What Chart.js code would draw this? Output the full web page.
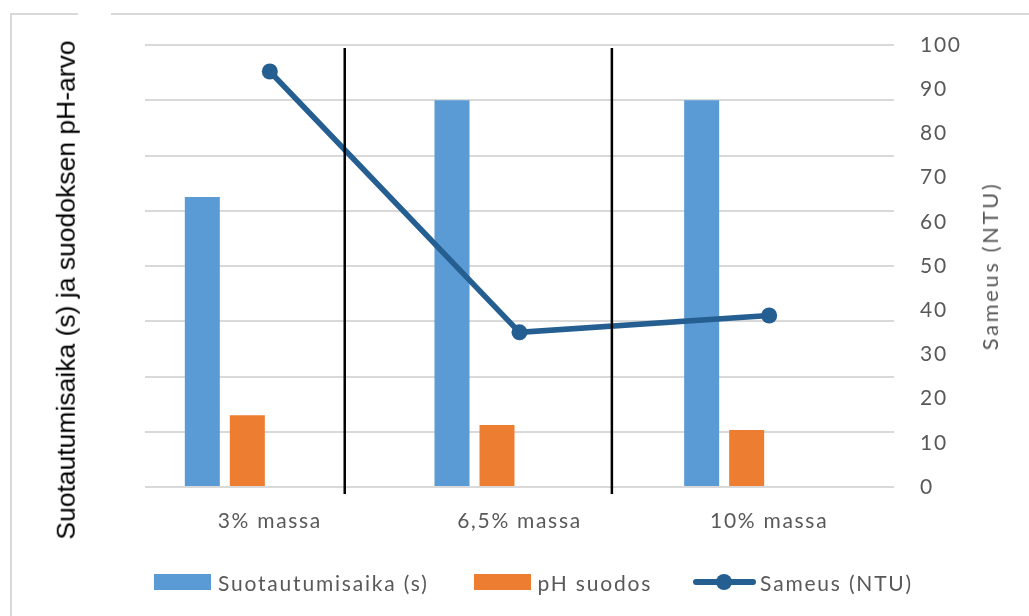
<!DOCTYPE html>
<html>
<head>
<meta charset="utf-8">
<script src="https://cdn.jsdelivr.net/npm/chart.js@4/dist/chart.umd.min.js"></script>
<style>
  html, body { margin: 0; padding: 0; background: #fff; overflow: hidden; }
  #wrap { position: relative; width: 1029px; height: 616px; overflow: hidden; font-family: Lato, sans-serif; }
  #frame { position: absolute; left: 10px; top: 13px; width: 1100px; height: 700px;
           border-left: 2px solid #d9d9d9; border-top: 2px solid #d9d9d9; }
  #frameGap { position: absolute; left: 78px; top: 10px; width: 33px; height: 8px; background: #fff; }
  #c { position: absolute; left: 0; top: 0; }
  .ytitle { position: absolute; white-space: nowrap; transform: translate(-50%, -50%) rotate(-90deg); line-height: 1; }
  #yTitleLeft { left: 66px; top: 290px; font-family: "Liberation Sans", Arial, sans-serif; font-size: 26.5px; color: #000; }
  #yTitleRight { left: 990px; top: 266px; font-size: 22px; color: #595959; letter-spacing: 2.6px; }
  #legend { position: absolute; left: 154px; top: 570px; height: 24px; display: flex; align-items: center;
            font-size: 21px; color: #595959; letter-spacing: 1.8px; white-space: nowrap; }
  .item { display: flex; align-items: center; }
  .swatch { width: 57px; height: 16px; }
  .lineSwatch { position: relative; width: 63px; height: 16px; }
  .lineSwatch .bar { position: absolute; left: 0; right: 0; top: 5px; height: 6px; border-radius: 3px; }
  .lineSwatch .dot { position: absolute; left: 23px; top: 0; width: 16px; height: 16px; border-radius: 50%; }
</style>
</head>
<body>
<div id="wrap">
  <div id="frame"></div>
  <div id="frameGap"></div>
  <canvas id="c" width="1029" height="616"></canvas>
  <div id="yTitleLeft" class="ytitle">Suotautumisaika (s) ja suodoksen pH-arvo</div>
  <div id="yTitleRight" class="ytitle">Sameus (NTU)</div>
  <div id="legend"></div>
</div>
<script>
// Samples: pulp consistency
const categories = ['3% massa', '6,5% massa', '10% massa'];
// Filtration time (s), left axis
const suotautumisaika = [52.5, 70, 70];
// Filtrate pH, left axis
const phSuodos = [13.0, 11.2, 10.3];
// Turbidity (NTU), right axis
const sameus = [94, 35, 38.8];
// Two unused bar slots in every group
const emptySlot = [null, null, null];
// Axis ranges
const leftAxis = { min: 0, max: 80, step: 10 };
const rightAxis = { min: 0, max: 100, step: 10 };
// Divider lines between the samples (category position, Sameus range)
const dividerAt = [0.3, 1.37];
const dividerSpan = [-1.6, 99.3];

const BLUE = '#5b9bd5';
const ORANGE = '#ed7d31';
const NAVY = '#255e91';
const GREY = '#595959';

const dividers = {
  id: 'dividers',
  afterDatasetsDraw(chart) {
    const { ctx, scales: { x, y1 } } = chart;
    ctx.save();
    ctx.strokeStyle = '#000';
    ctx.lineWidth = 2.5;
    dividerAt.forEach(v => {
      const px = x.getPixelForValue(v);
      ctx.beginPath();
      ctx.moveTo(px, y1.getPixelForValue(dividerSpan[0]));
      ctx.lineTo(px, y1.getPixelForValue(dividerSpan[1]));
      ctx.stroke();
    });
    ctx.restore();
  }
};

const spacing = {
  id: 'spacing',
  beforeDraw(chart) { chart.ctx.letterSpacing = '1.7px'; }
};

const chart = new Chart(document.getElementById('c'), {
  type: 'bar',
  data: {
    labels: categories,
    datasets: [
      { type: 'line', label: 'Sameus (NTU)', data: sameus, yAxisID: 'y1', order: 0,
        borderColor: NAVY, backgroundColor: NAVY, borderWidth: 5.5, tension: 0,
        pointRadius: 8, pointHoverRadius: 8, pointBorderWidth: 0, pointBackgroundColor: NAVY },
      { label: 'Suotautumisaika (s)', data: suotautumisaika, yAxisID: 'y', order: 1, backgroundColor: BLUE },
      { label: 'pH suodos', data: phSuodos, yAxisID: 'y', order: 1, backgroundColor: ORANGE },
      { label: '', data: emptySlot, yAxisID: 'y', order: 1, backgroundColor: 'transparent' },
      { label: '', data: emptySlot, yAxisID: 'y', order: 1, backgroundColor: 'transparent' }
    ]
  },
  options: {
    responsive: false,
    animation: false,
    events: [],
    categoryPercentage: 0.721,
    barPercentage: 0.778,
    layout: { padding: { left: 145, top: 45, right: 0, bottom: 69 } },
    plugins: { legend: { display: false }, tooltip: { enabled: false } },
    scales: {
      x: {
        grid: { display: false, drawTicks: false },
        border: { display: false },
        ticks: { color: GREY, font: { family: 'Lato', size: 21 }, padding: 22, maxRotation: 0, autoSkip: false },
        afterFit(s) { s.height = 60; }
      },
      y: {
        position: 'left', min: leftAxis.min, max: leftAxis.max,
        ticks: { stepSize: leftAxis.step, display: false },
        grid: { color: '#d9d9d9', lineWidth: 2, drawTicks: false },
        border: { display: false }
      },
      y1: {
        position: 'right', min: rightAxis.min, max: rightAxis.max,
        ticks: { stepSize: rightAxis.step, color: GREY, font: { family: 'Lato', size: 21 }, padding: 26 },
        grid: { display: false, drawTicks: false },
        border: { display: false },
        afterFit(s) { s.width = 135; }
      }
    }
  },
  plugins: [spacing, dividers]
});

// Legend built from the datasets: bars first, then the line
const legend = document.getElementById('legend');
const gaps = [45, 41];
const shown = chart.data.datasets.filter(d => d.label);
const ordered = shown.filter(d => d.type !== 'line').concat(shown.filter(d => d.type === 'line'));
ordered.forEach((d, i) => {
  const item = document.createElement('div');
  item.className = 'item';
  if (i > 0) item.style.marginLeft = gaps[i - 1] + 'px';
  let sw;
  if (d.type === 'line') {
    sw = document.createElement('div');
    sw.className = 'lineSwatch';
    sw.innerHTML = '<div class="bar"></div><div class="dot"></div>';
    sw.querySelector('.bar').style.background = d.borderColor;
    sw.querySelector('.dot').style.background = d.borderColor;
    sw.style.marginRight = '4px';
  } else {
    sw = document.createElement('div');
    sw.className = 'swatch';
    sw.style.background = d.backgroundColor;
    sw.style.marginRight = '7px';
  }
  const txt = document.createElement('span');
  txt.textContent = d.label;
  item.appendChild(sw);
  item.appendChild(txt);
  legend.appendChild(item);
});
</script>
</body>
</html>
